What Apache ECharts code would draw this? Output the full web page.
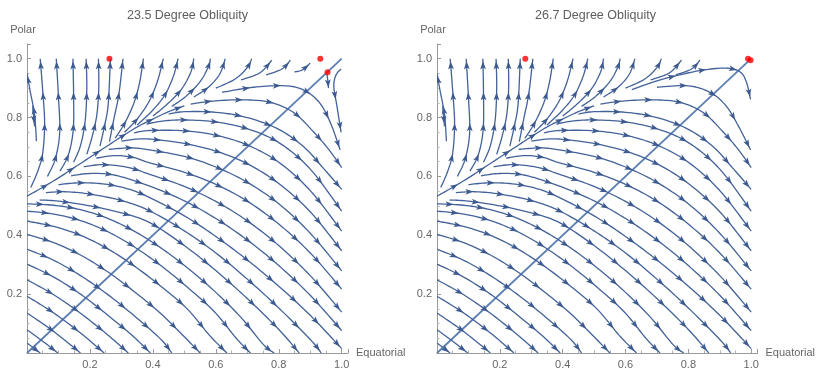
<!DOCTYPE html>
<html><head><meta charset="utf-8">
<script src="https://cdn.jsdelivr.net/npm/echarts/dist/echarts.min.js"></script>
<style>html,body{margin:0;background:#fff}#c{width:818px;height:370px}</style>
</head><body><div id="c"></div>
<script>
// ---------- data (data units) ----------
const panelTitles = ['23.5 Degree Obliquity', '26.7 Degree Obliquity'];
const xAxisName = 'Equatorial';
const yAxisName = 'Polar';
const tickLabels = ['0.2', '0.4', '0.6', '0.8', '1.0'];

const diagonalLine = [[0, 0], [1, 1]];
const redPoints1 = [[0.262, 1.0], [0.932, 1.0], [0.955, 0.954]];
const redPoints2 = [[0.281, 1.0], [0.99, 1.0], [0.998, 0.995]];

// streamlines that start on the left edge and run down to the bottom
const lowerStreams = [
  [[0,0.034],[0.042,0]],
  [[0,0.079],[0.05,0.04],[0.098,0]],
  [[0,0.136],[0.085,0.073],[0.17,0]],
  [[0,0.193],[0.085,0.136],[0.17,0.068],[0.245,0]],
  [[0,0.249],[0.085,0.198],[0.17,0.135],[0.255,0.063],[0.322,0]],
  [[0,0.302],[0.085,0.258],[0.17,0.2],[0.255,0.13],[0.339,0.055],[0.392,0]],
  [[0,0.353],[0.085,0.315],[0.17,0.263],[0.255,0.2],[0.339,0.128],[0.424,0.048],[0.46,0]],
  [[0,0.403],[0.085,0.375],[0.17,0.333],[0.255,0.277],[0.339,0.21],[0.424,0.135],[0.5,0.055],[0.55,0]],
  [[0,0.448],[0.085,0.43],[0.17,0.4],[0.255,0.355],[0.339,0.297],[0.424,0.228],[0.509,0.15],[0.58,0.06],[0.635,0]],
  [[0,0.482],[0.085,0.472],[0.17,0.45],[0.255,0.413],[0.339,0.362],[0.424,0.298],[0.509,0.224],[0.594,0.142],[0.665,0.05],[0.71,0]],
  [[0,0.507],[0.085,0.502],[0.17,0.487],[0.255,0.458],[0.339,0.415],[0.424,0.358],[0.509,0.29],[0.594,0.212],[0.679,0.122],[0.75,0.03],[0.785,0]]
];

// arcs leaving the separatrix, bending over and running down-right
const arcStreams = [
  [[0.04,0.52],[0.1,0.516],[0.2,0.5],[0.3,0.476],[0.39,0.443],[0.5,0.365],[0.6,0.28],[0.7,0.185],[0.8,0.08],[0.865,0]],
  [[0.06,0.545],[0.12,0.548],[0.2,0.54],[0.3,0.518],[0.39,0.483],[0.5,0.415],[0.6,0.34],[0.7,0.251],[0.8,0.153],[0.9,0.046],[0.935,0]],
  [[0.1,0.572],[0.16,0.578],[0.24,0.575],[0.32,0.558],[0.39,0.528],[0.5,0.466],[0.6,0.396],[0.7,0.316],[0.8,0.227],[0.9,0.128],[1.0,0.015]],
  [[0.14,0.602],[0.2,0.61],[0.28,0.604],[0.39,0.567],[0.5,0.517],[0.6,0.457],[0.7,0.384],[0.8,0.297],[0.9,0.196],[1.0,0.076]],
  [[0.18,0.633],[0.24,0.64],[0.32,0.631],[0.39,0.607],[0.5,0.566],[0.6,0.515],[0.7,0.449],[0.8,0.365],[0.9,0.263],[1.0,0.139]],
  [[0.22,0.662],[0.28,0.671],[0.34,0.664],[0.39,0.646],[0.5,0.614],[0.6,0.573],[0.7,0.516],[0.8,0.438],[0.9,0.34],[1.0,0.217]],
  [[0.26,0.692],[0.33,0.697],[0.39,0.69],[0.5,0.668],[0.6,0.632],[0.7,0.58],[0.8,0.507],[0.9,0.407],[1.0,0.279]],
  [[0.3,0.72],[0.35,0.727],[0.4,0.726],[0.5,0.712],[0.6,0.686],[0.7,0.643],[0.8,0.576],[0.9,0.48],[1.0,0.347]],
  [[0.34,0.748],[0.39,0.756],[0.5,0.755],[0.6,0.74],[0.7,0.707],[0.8,0.648],[0.9,0.552],[1.0,0.414]],
  [[0.38,0.778],[0.43,0.788],[0.5,0.792],[0.6,0.785],[0.7,0.762],[0.8,0.715],[0.9,0.625],[1.0,0.482]],
  [[0.45,0.812],[0.5,0.82],[0.6,0.818],[0.7,0.8],[0.8,0.76],[0.88,0.70],[0.94,0.63],[1.0,0.556]],
  [[0.52,0.846],[0.6,0.857],[0.7,0.86],[0.78,0.85],[0.85,0.815],[0.91,0.752],[0.96,0.69],[1.0,0.63]]
];

// the dividing streamline from the left edge up to the right
const separatrixStream = [
  [[0,0.533],[0.05,0.563],[0.1,0.595],[0.15,0.63],[0.2,0.665],[0.25,0.70],[0.3,0.735],[0.35,0.768],[0.4,0.795],[0.45,0.82],[0.5,0.84]]
];

// near-vertical fan in the upper left, running up to the top
const fanStreams = [
  [[0.03,0.72],[0.024,0.81],[0.01,0.89],[0,0.95]],
  [[0.012,0.562],[0.035,0.62],[0.05,0.68],[0.056,0.78],[0.05,0.89],[0.042,1.0]],
  [[0.065,0.6],[0.09,0.66],[0.104,0.75],[0.1,0.87],[0.093,1.0]],
  [[0.105,0.618],[0.132,0.675],[0.147,0.76],[0.148,0.88],[0.146,1.0]],
  [[0.148,0.648],[0.17,0.705],[0.185,0.79],[0.19,0.9],[0.188,1.0]],
  [[0.19,0.675],[0.207,0.735],[0.222,0.81],[0.228,0.9],[0.227,1.0]],
  [[0.232,0.703],[0.246,0.77],[0.258,0.845],[0.265,1.0]],
  [[0.018,0.84],[0.024,0.77]]
];

// streamlines rising from the separatrix to the top edge
const riseStreams = [
  [[0.262,0.718],[0.275,0.79],[0.292,0.88],[0.305,1.0]],
  [[0.28,0.73],[0.31,0.78],[0.34,0.85],[0.358,0.92],[0.37,1.0]],
  [[0.31,0.75],[0.35,0.795],[0.388,0.855],[0.415,0.925],[0.433,1.0]],
  [[0.35,0.775],[0.395,0.82],[0.437,0.875],[0.465,0.94],[0.48,1.0]],
  [[0.4,0.805],[0.445,0.845],[0.49,0.895],[0.52,0.953],[0.53,1.0]],
  [[0.46,0.838],[0.505,0.872],[0.55,0.922],[0.575,0.97],[0.583,1.0]],
  [[0.53,0.87],[0.575,0.902],[0.612,0.947],[0.63,1.0]],
  [[0.6,0.9],[0.66,0.93],[0.7,0.97],[0.714,1.0]],
  [[0.68,0.928],[0.74,0.952],[0.778,0.995]],
  [[0.76,0.945],[0.81,0.965],[0.837,0.995]]
];

// top-right corner, 23.5 degrees
const cornerStreams1 = [
  [[0.62,0.886],[0.72,0.903],[0.82,0.908],[0.88,0.893],[0.93,0.85],[0.965,0.78],[0.995,0.69]],
  [[0.85,0.955],[0.875,0.962],[0.9,0.985]],
  [[0.998,0.965],[0.982,0.945],[0.975,0.906],[0.985,0.838],[0.998,0.75]],
  [[0.953,0.949],[0.956,0.925],[0.958,0.9]]
];
// top-right corner, 26.7 degrees
const cornerStreams2 = [
  [[0.62,0.895],[0.7,0.925],[0.78,0.947],[0.85,0.962],[0.92,0.968],[0.965,0.955],[0.985,0.92],[0.998,0.862]],
  [[0.7,0.903],[0.8,0.908],[0.87,0.885],[0.92,0.84],[0.96,0.77],[0.998,0.69]]
];

// ---------- drawing ----------
const STREAM = '#43629a';
const ARROW = '#3c5a8f';

function spline(pts) {
  if (pts.length < 3) return pts.slice();
  const out = [];
  for (let i = 0; i < pts.length - 1; i++) {
    const p0 = pts[i - 1] || pts[i], p1 = pts[i], p2 = pts[i + 1], p3 = pts[i + 2] || pts[i + 1];
    for (let k = 0; k < 10; k++) {
      const t = k / 10, t2 = t * t, t3 = t2 * t;
      out.push([0, 1].map(d => 0.5 * ((2 * p1[d]) + (-p0[d] + p2[d]) * t +
        (2 * p0[d] - 5 * p1[d] + 4 * p2[d] - p3[d]) * t2 + (-p0[d] + 3 * p1[d] - 3 * p2[d] + p3[d]) * t3)));
    }
  }
  out.push(pts[pts.length - 1]);
  return out;
}

function streamRender(lines) {
  return function (params, api) {
    const line = lines[params.dataIndex];
    const pts = spline(line.map(p => api.coord(p)));
    const cum = [0];
    for (let i = 1; i < pts.length; i++) {
      cum.push(cum[i - 1] + Math.hypot(pts[i][0] - pts[i - 1][0], pts[i][1] - pts[i - 1][1]));
    }
    const total = cum[cum.length - 1];
    const children = [{
      type: 'polyline', silent: true,
      shape: { points: pts },
      style: { stroke: STREAM, lineWidth: 1.3, fill: null, lineJoin: 'round' }
    }];
    const spots = [];
    if (total < 22) spots.push(total * 0.65);
    else for (let s = total - 7; s > 11; s -= 31) spots.push(s);
    spots.forEach(s => {
      let i = 1;
      while (i < cum.length - 1 && cum[i] < s) i++;
      const a = pts[i - 1], b = pts[i];
      const seg = cum[i] - cum[i - 1] || 1;
      const f = (s - cum[i - 1]) / seg;
      const x = a[0] + (b[0] - a[0]) * f, y = a[1] + (b[1] - a[1]) * f;
      let dx = b[0] - a[0], dy = b[1] - a[1];
      const L = Math.hypot(dx, dy) || 1; dx /= L; dy /= L;
      const len = 8, w = 2.9;
      const tip = [x + dx * len * 0.55, y + dy * len * 0.55];
      const bx = x - dx * len * 0.45, by = y - dy * len * 0.45;
      const mid = [x - dx * len * 0.22, y - dy * len * 0.22];
      children.push({
        type: 'polygon', silent: true,
        shape: { points: [tip, [bx - dy * w, by + dx * w], mid, [bx + dy * w, by - dx * w]] },
        style: { fill: ARROW, stroke: null }
      });
    });
    return { type: 'group', children };
  };
}

const chart = echarts.init(document.getElementById('c'), null, { renderer: 'canvas' });

const grids = [
  { left: 27, top: 44, width: 321, height: 310 },
  { left: 437, top: 44, width: 321, height: 310 }
];
const titleLeft = [122, 530];

function labelFor(v) {
  const idx = Math.round(v / 0.2) - 1;
  if (idx >= 0 && idx < tickLabels.length && Math.abs(v - (idx + 1) * 0.2) < 1e-6) return tickLabels[idx];
  return '';
}

const axisCommon = {
  type: 'value', min: 0, interval: 0.2,
  axisLine: { show: true, onZero: false, lineStyle: { color: '#9a9a9a', width: 1 } },
  axisTick: { show: true, inside: true, length: 4, lineStyle: { color: '#9a9a9a' } },
  minorTick: { show: true, splitNumber: 4, length: 2.5, lineStyle: { color: '#b0b0b0' } },
  splitLine: { show: false },
  minorSplitLine: { show: false },
  axisLabel: { color: '#666', fontSize: 11, fontFamily: 'Liberation Sans', formatter: labelFor, showMaxLabel: false },
  nameTextStyle: { color: '#666', fontSize: 11, fontFamily: 'Liberation Sans' }
};

const panels = [
  { red: redPoints1, streams: [].concat(lowerStreams, arcStreams, separatrixStream, fanStreams, riseStreams, cornerStreams1) },
  { red: redPoints2, streams: [].concat(lowerStreams, arcStreams, separatrixStream, fanStreams, riseStreams, cornerStreams2) }
];

const option = {
  animation: false,
  backgroundColor: '#fff',
  title: panelTitles.map((t, i) => ({
    text: t, left: titleLeft[i], top: 4,
    textStyle: { fontSize: 12.5, fontWeight: 'normal', color: '#5e5e5e', fontFamily: 'Liberation Sans' }
  })),
  grid: grids,
  xAxis: grids.map((g, i) => Object.assign({}, axisCommon, {
    gridIndex: i, max: 1.02, name: xAxisName, nameLocation: 'end', nameGap: 8,
    axisLabel: Object.assign({}, axisCommon.axisLabel, { margin: 6 }),
    nameTextStyle: Object.assign({}, axisCommon.nameTextStyle, { verticalAlign: 'middle', align: 'left', padding: [4, 0, 0, 0] })
  })),
  yAxis: grids.map((g, i) => Object.assign({}, axisCommon, {
    gridIndex: i, max: 1.05, name: yAxisName, nameLocation: 'end', nameGap: 14,
    axisLabel: Object.assign({}, axisCommon.axisLabel, { margin: 5 }),
    nameTextStyle: Object.assign({}, axisCommon.nameTextStyle, { align: 'center', verticalAlign: 'middle', padding: [0, 8, 0, 0] })
  })),
  series: []
};

panels.forEach((p, i) => {
  option.series.push({
    type: 'line', xAxisIndex: i, yAxisIndex: i, data: diagonalLine, symbol: 'none',
    lineStyle: { color: '#5c7fb3', width: 1.8 }, z: 2, silent: true
  });
  option.series.push({
    type: 'custom', xAxisIndex: i, yAxisIndex: i, coordinateSystem: 'cartesian2d',
    renderItem: streamRender(p.streams), clip: true, silent: true,
    encode: { x: 0, y: 1 },
    data: p.streams.map((s, k) => [s[0][0], s[0][1], k]), z: 3
  });
  option.series.push({
    type: 'scatter', xAxisIndex: i, yAxisIndex: i, data: p.red, symbolSize: 6,
    itemStyle: { color: '#ff0000' }, z: 5, silent: true
  });
});

chart.setOption(option);
</script></body></html>
